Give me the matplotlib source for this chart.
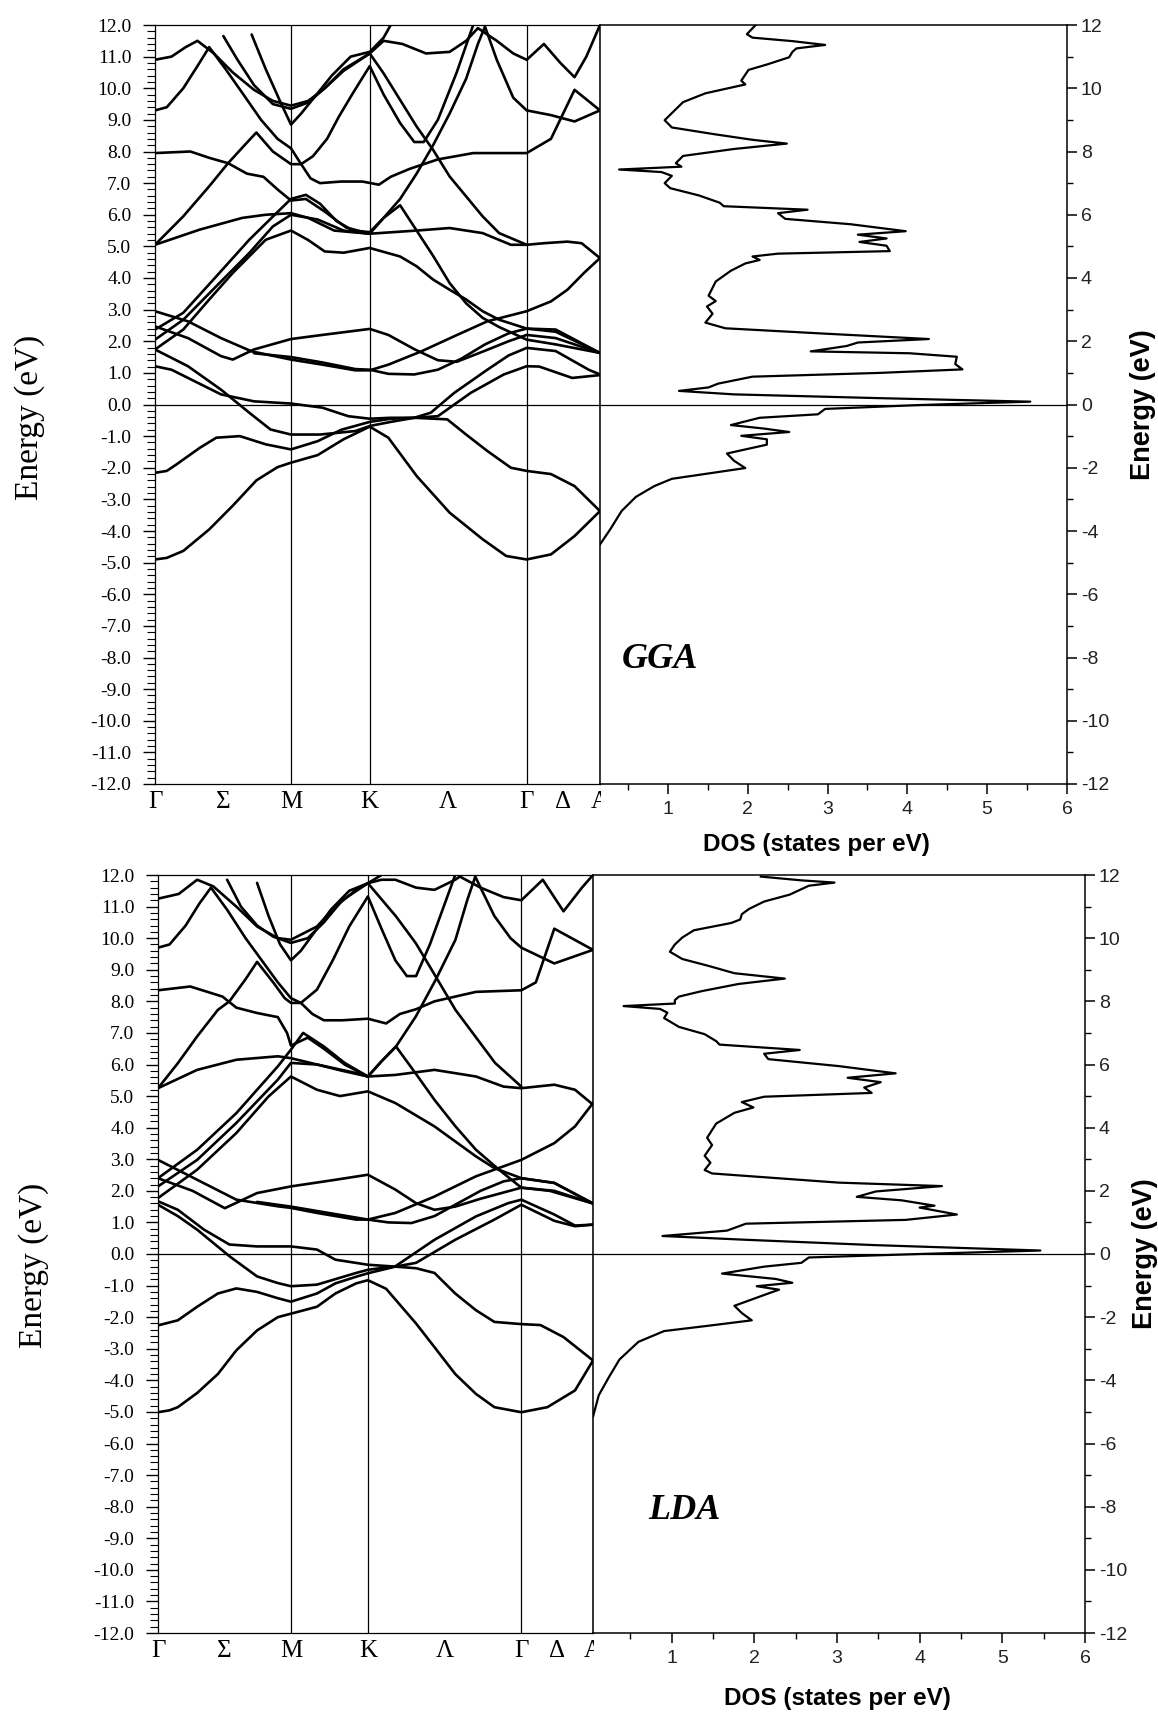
import matplotlib
matplotlib.use("Agg")
import matplotlib.pyplot as plt
from matplotlib.ticker import MultipleLocator, FormatStrFormatter
from matplotlib.patches import Rectangle

plt.rcParams['axes.unicode_minus'] = False

# ---------------- high-symmetry path ----------------
kpath_labels = ['Γ', 'Σ', 'M', 'K', 'Λ', 'Γ', 'Δ', 'A']
kpath_label_pos = [0.0, 0.289, 0.577, 0.911, 1.244, 1.577, 1.73, 1.888]
kpath_vlines = [0.577, 0.911, 1.577]
k_end = 1.888

# ---------------- GGA bands (k, E) ----------------
gga_g1 = [(0,-4.9),(0.05,-4.85),(0.12,-4.63),(0.23,-3.95),(0.33,-3.2),(0.43,-2.4),(0.52,-1.98),(0.577,-1.84),(0.69,-1.6),(0.80,-1.1),(0.911,-0.7),(0.99,-1.05),(1.11,-2.26),(1.25,-3.42),(1.39,-4.26),(1.49,-4.79),(1.577,-4.9),(1.68,-4.74),(1.78,-4.16),(1.888,-3.37)]
gga_g2 = [(0,-2.16),(0.05,-2.1),(0.09,-1.9),(0.19,-1.37),(0.26,-1.05),(0.36,-1.0),(0.47,-1.26),(0.577,-1.42),(0.69,-1.16),(0.79,-0.8),(0.911,-0.55),(1.0,-0.45),(1.1,-0.42),(1.24,-0.47),(1.32,-0.95),(1.41,-1.47),(1.51,-2.0),(1.577,-2.1),(1.68,-2.2),(1.78,-2.58),(1.888,-3.37)]
gga_g3 = [(0,1.74),(0.14,1.21),(0.28,0.47),(0.40,-0.26),(0.49,-0.79),(0.577,-0.95),(0.70,-0.95),(0.85,-0.84),(0.911,-0.68),(1.0,-0.55),(1.1,-0.42),(1.17,-0.26),(1.27,0.37),(1.41,1.1),(1.5,1.55),(1.577,1.79),(1.70,1.69),(1.84,1.1),(1.888,0.95)]
gga_g4 = [(0,1.21),(0.07,1.1),(0.14,0.84),(0.28,0.32),(0.42,0.1),(0.577,0.03),(0.71,-0.1),(0.82,-0.37),(0.911,-0.45),(1.0,-0.42),(1.1,-0.42),(1.2,-0.37),(1.34,0.37),(1.48,0.95),(1.577,1.21),(1.63,1.2),(1.77,0.84),(1.888,0.93)]
gga_c1 = [(0,2.95),(0.14,2.63),(0.28,2.1),(0.41,1.68),(0.577,1.42),(0.71,1.26),(0.85,1.08),(0.911,1.08),(0.99,1.26),(1.13,1.68),(1.27,2.16),(1.41,2.63),(1.577,2.95),(1.68,3.26),(1.75,3.63),(1.82,4.16),(1.888,4.63)]
gga_c2 = [(0,2.47),(0.14,2.1),(0.28,1.53),(0.33,1.42),(0.42,1.74),(0.577,2.07),(0.71,2.2),(0.911,2.39),(0.99,2.2),(1.1,1.75),(1.2,1.4),(1.28,1.35),(1.4,1.7),(1.5,2.0),(1.577,2.2),(1.70,2.1),(1.888,1.63)]
gga_c3 = [(0.42,1.62),(0.577,1.5),(0.71,1.33),(0.85,1.12),(0.911,1.1),(0.99,0.97),(1.1,0.95),(1.2,1.1),(1.3,1.45),(1.4,1.9),(1.5,2.25),(1.577,2.4),(1.70,2.37),(1.888,1.63)]
gga_s1 = [(0,1.74),(0.12,2.37),(0.23,3.32),(0.33,4.16),(0.47,5.21),(0.577,5.5),(0.65,5.2),(0.72,4.84),(0.80,4.8),(0.911,4.95),(1.04,4.68),(1.11,4.37),(1.18,3.95),(1.25,3.63),(1.32,3.32),(1.39,2.95),(1.46,2.68),(1.577,2.4),(1.70,2.3),(1.888,1.63)]
gga_s2 = [(0,2.05),(0.12,2.68),(0.26,3.74),(0.40,4.79),(0.50,5.63),(0.577,6.0),(0.69,5.85),(0.80,5.5),(0.911,5.4)]
gga_s3 = [(0,2.37),(0.12,2.9),(0.26,4.05),(0.40,5.21),(0.53,6.16),(0.577,6.5),(0.64,6.63),(0.70,6.35),(0.77,5.8),(0.84,5.5),(0.911,5.45),(0.97,5.9),(1.04,6.3),(1.11,5.5),(1.18,4.7),(1.25,3.84),(1.32,3.2),(1.39,2.74),(1.46,2.45),(1.577,2.05),(1.70,1.9),(1.888,1.63)]
gga_u1 = [(0,5.05),(0.19,5.53),(0.37,5.9),(0.47,6.0),(0.577,6.05),(0.65,5.9),(0.76,5.5),(0.911,5.4),(1.11,5.5),(1.25,5.58),(1.39,5.42),(1.51,5.05),(1.577,5.05),(1.65,5.1),(1.75,5.15),(1.81,5.1),(1.888,4.63)]
gga_u2 = [(0,5.05),(0.12,5.95),(0.23,6.9),(0.31,7.63),(0.38,8.2),(0.43,8.6),(0.50,8.0),(0.577,7.6),(0.62,7.6),(0.66,7.15),(0.70,7.0),(0.79,7.05),(0.88,7.05),(0.95,6.95),(1.0,7.2),(1.08,7.45),(1.2,7.75),(1.35,7.95),(1.577,7.95),(1.68,8.4),(1.78,9.95),(1.888,9.3)]
gga_u3 = [(0,7.95),(0.15,8.0),(0.23,7.8),(0.31,7.63),(0.39,7.3),(0.46,7.2),(0.52,6.8),(0.577,6.45),(0.64,6.5),(0.72,6.1),(0.81,5.6),(0.911,5.4),(0.97,5.9),(1.04,6.5),(1.11,7.3),(1.18,8.2),(1.25,9.2),(1.32,10.3),(1.37,11.4),(1.40,11.95),(1.45,10.9),(1.52,9.7),(1.577,9.3),(1.68,9.15),(1.78,8.95),(1.888,9.3)]
gga_d1 = [(0.911,11.1),(0.97,10.47),(1.04,9.63),(1.11,8.79),(1.18,8.05),(1.25,7.21),(1.32,6.58),(1.39,5.95),(1.46,5.42),(1.577,5.05)]
gga_l1 = [(0,10.9),(0.07,11.0),(0.13,11.3),(0.18,11.5),(0.25,11.1),(0.33,10.5),(0.42,9.95),(0.50,9.6),(0.577,9.45),(0.65,9.6),(0.72,10.0),(0.80,10.6),(0.911,11.1),(0.97,11.5),(1.05,11.4),(1.15,11.1),(1.25,11.15),(1.32,11.5),(1.37,11.9),(1.45,11.5),(1.52,11.1),(1.577,10.9),(1.65,11.4),(1.72,10.8),(1.78,10.35),(1.83,11.0),(1.888,12.0)]
gga_l2 = [(0,9.3),(0.05,9.4),(0.12,10.0),(0.18,10.7),(0.23,11.3),(0.30,10.6),(0.38,9.75),(0.45,9.0),(0.52,8.4),(0.577,8.1),(0.62,7.6),(0.67,7.85),(0.73,8.4),(0.78,9.1),(0.84,9.85),(0.911,10.7),(0.97,9.8),(1.04,8.9),(1.10,8.3),(1.14,8.3),(1.20,9.0),(1.28,10.5),(1.35,12.0)]
gga_l3 = [(0.29,11.65),(0.35,10.9),(0.42,10.1),(0.50,9.5),(0.577,9.35),(0.65,9.55),(0.72,10.0),(0.80,10.55),(0.911,11.1)]
gga_l4 = [(0.41,11.7),(0.47,10.6),(0.53,9.6),(0.577,8.85),(0.62,9.2),(0.68,9.75),(0.75,10.4),(0.83,11.0),(0.911,11.15),(0.97,11.6),(1.0,12.0)]

# ---------------- LDA bands (k, E) ----------------
lda_g1 = [(0,-5.01),(0.05,-4.95),(0.086,-4.85),(0.17,-4.4),(0.26,-3.8),(0.34,-3.05),(0.43,-2.42),(0.52,-2.0),(0.577,-1.89),(0.69,-1.67),(0.77,-1.25),(0.86,-0.93),(0.911,-0.83),(0.99,-1.1),(1.12,-2.2),(1.2,-2.95),(1.29,-3.8),(1.38,-4.43),(1.46,-4.85),(1.577,-5.01),(1.69,-4.85),(1.81,-4.32),(1.888,-3.37)]
lda_g2 = [(0,-2.26),(0.086,-2.1),(0.17,-1.67),(0.26,-1.25),(0.34,-1.09),(0.43,-1.2),(0.52,-1.4),(0.577,-1.51),(0.69,-1.25),(0.77,-0.93),(0.86,-0.72),(0.911,-0.61),(1.03,-0.4),(1.12,-0.45),(1.2,-0.6),(1.29,-1.25),(1.38,-1.78),(1.46,-2.15),(1.577,-2.22),(1.66,-2.25),(1.76,-2.63),(1.888,-3.37)]
lda_g3 = [(0,1.56),(0.086,1.2),(0.17,0.77),(0.31,-0.07),(0.43,-0.71),(0.52,-0.92),(0.577,-1.02),(0.69,-0.97),(0.86,-0.6),(0.911,-0.5),(1.03,-0.39),(1.2,0.45),(1.38,1.19),(1.52,1.61),(1.577,1.72),(1.72,1.25),(1.81,0.9),(1.888,0.93)]
lda_g4 = [(0,1.67),(0.086,1.4),(0.2,0.77),(0.31,0.3),(0.43,0.24),(0.577,0.24),(0.69,0.14),(0.77,-0.18),(0.911,-0.34),(1.03,-0.4),(1.12,-0.28),(1.29,0.45),(1.46,1.09),(1.577,1.56),(1.72,1.05),(1.81,0.88),(1.888,0.93)]
lda_c1 = [(0,2.98),(0.17,2.35),(0.34,1.72),(0.52,1.51),(0.577,1.46),(0.69,1.3),(0.86,1.09),(0.911,1.09),(1.03,1.3),(1.2,1.82),(1.38,2.46),(1.577,2.98),(1.72,3.51),(1.81,4.04),(1.888,4.78)]
lda_c2 = [(0,2.4),(0.15,2.0),(0.29,1.45),(0.43,1.93),(0.577,2.14),(0.77,2.35),(0.911,2.51),(1.03,2.04),(1.12,1.61),(1.2,1.4),(1.29,1.5),(1.4,1.75),(1.577,2.1),(1.7,2.0),(1.888,1.6)]
lda_c3 = [(0.43,1.65),(0.577,1.5),(0.74,1.3),(0.911,1.09),(1.0,1.0),(1.1,0.98),(1.2,1.2),(1.3,1.6),(1.4,2.0),(1.5,2.3),(1.577,2.4),(1.72,2.25),(1.888,1.6)]
lda_s1 = [(0,1.77),(0.17,2.67),(0.34,3.83),(0.48,4.99),(0.577,5.62),(0.69,5.2),(0.79,5.0),(0.911,5.15),(1.03,4.78),(1.2,4.04),(1.38,3.09),(1.46,2.72),(1.577,2.4),(1.72,2.25),(1.888,1.6)]
lda_s2 = [(0,2.14),(0.17,2.98),(0.34,4.15),(0.52,5.52),(0.577,6.05),(0.69,6.0),(0.80,5.8),(0.911,5.62)]
lda_s3 = [(0,2.4),(0.17,3.3),(0.34,4.46),(0.52,5.94),(0.577,6.47),(0.63,7.0),(0.72,6.57),(0.81,6.05),(0.911,5.62),(0.97,6.1),(1.033,6.57),(1.12,5.7),(1.2,4.88),(1.29,4.05),(1.38,3.3),(1.48,2.67),(1.577,2.1),(1.72,2.0),(1.888,1.6)]
lda_u1 = [(0,5.25),(0.17,5.83),(0.34,6.15),(0.52,6.26),(0.577,6.2),(0.69,6.0),(0.86,5.73),(0.911,5.62),(1.03,5.67),(1.2,5.83),(1.38,5.62),(1.5,5.3),(1.577,5.25),(1.72,5.36),(1.81,5.2),(1.888,4.73)]
lda_u2 = [(0,5.25),(0.086,6.04),(0.17,6.89),(0.26,7.73),(0.31,8.0),(0.38,8.7),(0.43,9.25),(0.50,8.6),(0.55,8.1),(0.577,7.95),(0.62,7.95),(0.67,7.6),(0.72,7.4),(0.80,7.4),(0.911,7.45),(0.99,7.3),(1.05,7.6),(1.12,7.75),(1.2,8.0),(1.38,8.3),(1.577,8.35),(1.64,8.6),(1.72,10.3),(1.888,9.63)]
lda_u3 = [(0,8.35),(0.14,8.47),(0.28,8.15),(0.34,7.8),(0.43,7.63),(0.52,7.5),(0.56,7.0),(0.577,6.6),(0.65,6.85),(0.72,6.5),(0.81,6.0),(0.911,5.62),(0.97,6.1),(1.033,6.57),(1.119,7.52),(1.205,8.68),(1.291,9.95),(1.342,11.2),(1.377,11.95),(1.40,11.6),(1.46,10.7),(1.53,10.0),(1.577,9.7),(1.72,9.2),(1.888,9.63)]
lda_d1 = [(0.911,11.74),(1.033,10.69),(1.119,9.84),(1.205,8.79),(1.291,7.73),(1.377,6.89),(1.463,6.05),(1.577,5.3)]
lda_l1 = [(0,11.25),(0.09,11.4),(0.17,11.85),(0.24,11.64),(0.34,11.0),(0.43,10.37),(0.52,10.0),(0.577,9.95),(0.69,10.37),(0.77,11.0),(0.86,11.53),(0.911,11.74),(0.97,11.85),(1.03,11.85),(1.12,11.6),(1.2,11.53),(1.29,11.85),(1.31,11.95),(1.40,11.6),(1.50,11.3),(1.577,11.2),(1.67,11.85),(1.76,10.85),(1.84,11.6),(1.888,12.0)]
lda_l2 = [(0,9.7),(0.05,9.8),(0.12,10.4),(0.18,11.1),(0.23,11.6),(0.30,10.9),(0.38,10.0),(0.45,9.3),(0.52,8.6),(0.577,8.1),(0.62,7.95),(0.69,8.37),(0.76,9.32),(0.83,10.37),(0.911,11.32),(0.97,10.3),(1.03,9.3),(1.08,8.8),(1.12,8.8),(1.18,9.8),(1.24,11.0),(1.29,12.0)]
lda_l3 = [(0.30,11.85),(0.36,11.0),(0.43,10.4),(0.50,10.05),(0.577,9.85),(0.65,10.0),(0.72,10.5),(0.80,11.2),(0.911,11.74)]
lda_l4 = [(0.43,11.75),(0.48,10.7),(0.53,9.8),(0.577,9.3),(0.62,9.6),(0.68,10.2),(0.75,10.9),(0.83,11.5),(0.911,11.74),(0.97,12.0)]

# ---------------- DOS (energy, states per eV) ----------------
gga_dos_e = [12.0,11.71,11.6,11.49,11.37,11.26,11.15,10.98,10.75,10.58,
             10.24,10.12,9.84,9.56,8.99,8.76,8.54,8.37,8.25,8.08,
             7.86,7.63,7.52,7.43,7.35,7.23,7.0,6.84,6.61,6.38,
             6.27,6.16,6.05,5.87,5.7,5.48,5.37,5.25,5.14,5.02,
             4.85,4.77,4.68,4.57,4.46,4.23,3.89,3.44,3.27,3.1,
             2.87,2.59,2.41,2.24,2.07,1.96,1.85,1.68,1.62,1.51,
             1.28,1.11,1.0,0.88,0.66,0.54,0.43,0.32,0.2,0.09,
             -0.02,-0.14,-0.31,-0.42,-0.65,-0.76,-0.87,-0.99,-1.1,-1.27,
             -1.55,-1.78,-2.01,-2.18,-2.35,-2.58,-2.92,-3.37,-3.94,-4.5,-4.8]
gga_dos_v = [2.1,1.99,2.06,2.56,2.97,2.61,2.56,2.52,2.24,2.01,
             1.92,1.97,1.47,1.19,0.96,1.05,1.6,2.06,2.49,1.83,
             1.19,1.1,1.17,0.39,0.92,1.05,0.96,1.03,1.39,1.65,
             1.7,2.75,2.38,2.47,3.29,3.98,3.38,3.74,3.4,3.74,
             3.78,2.38,2.06,2.15,1.97,1.79,1.6,1.51,1.6,1.49,
             1.56,1.47,1.72,2.97,4.27,3.38,3.24,2.79,4.03,4.62,
             4.6,4.69,3.66,2.06,1.63,1.51,1.14,1.83,3.66,5.54,
             4.12,2.97,2.88,2.15,1.79,2.2,2.52,1.92,2.24,2.24,
             1.74,1.83,1.97,1.51,1.05,0.83,0.6,0.42,0.28,0.13,0.05]

lda_dos_e = [11.95,11.83,11.76,11.66,11.49,11.38,11.16,10.93,10.76,10.59,
             10.48,10.25,10.02,9.8,9.57,9.34,9.12,8.89,8.72,8.55,
             8.32,8.15,8.04,7.93,7.85,7.76,7.64,7.47,7.19,6.96,
             6.74,6.63,6.46,6.34,6.17,5.95,5.72,5.58,5.44,5.27,
             5.1,4.98,4.81,4.64,4.47,4.13,3.68,3.45,3.11,2.89,
             2.66,2.55,2.26,2.15,1.98,1.81,1.7,1.53,1.47,1.25,
             1.08,0.96,0.74,0.57,0.45,0.28,0.11,0.0,-0.11,-0.28,
             -0.4,-0.62,-0.79,-0.91,-1.02,-1.13,-1.25,-1.64,-1.87,-2.1,
             -2.27,-2.44,-2.78,-3.34,-3.91,-4.47,-5.15]
lda_dos_v = [2.08,2.57,2.97,2.66,2.52,2.43,2.12,1.94,1.85,1.83,
             1.72,1.27,1.13,1.04,0.98,1.13,1.45,1.76,2.37,1.81,
             1.36,1.09,1.04,1.04,0.42,0.86,0.95,0.91,1.09,1.4,
             1.54,1.58,2.55,2.12,2.17,3.02,3.71,3.13,3.53,3.33,
             3.42,2.12,1.85,1.99,1.76,1.54,1.43,1.49,1.4,1.47,
             1.4,1.49,3.02,4.27,3.47,3.24,3.78,4.18,4.0,4.45,
             3.83,1.9,1.67,0.89,1.9,3.47,5.46,4.0,2.66,2.57,
             2.12,1.61,2.26,2.46,2.03,2.3,2.17,1.76,1.85,1.97,
             1.45,0.91,0.6,0.37,0.24,0.12,0.05]

gga_bands = [gga_g1, gga_g2, gga_g3, gga_g4, gga_c1, gga_c2, gga_c3, gga_s1, gga_s2, gga_s3,
             gga_u1, gga_u2, gga_u3, gga_d1, gga_l1, gga_l2, gga_l3, gga_l4]
lda_bands = [lda_g1, lda_g2, lda_g3, lda_g4, lda_c1, lda_c2, lda_c3, lda_s1, lda_s2, lda_s3,
             lda_u1, lda_u2, lda_u3, lda_d1, lda_l1, lda_l2, lda_l3, lda_l4]

# ---------------- figure ----------------
W, H = 1158, 1713
fig = plt.figure(figsize=(W / 100, H / 100), dpi=100)
fig.patch.set_facecolor('white')

def box(l, t, r, b):
    return [l / W, 1 - b / H, (r - l) / W, (b - t) / H]

SERIF = ['Liberation Serif', 'DejaVu Serif']
SANS = ['Liberation Sans', 'DejaVu Sans']

def draw_bands(ax, bands):
    for band in bands:
        ks = [p[0] for p in band]
        es = [p[1] for p in band]
        ax.plot(ks, es, color='black', lw=1.9, solid_joinstyle='round', solid_capstyle='round')
    for kv in kpath_vlines:
        ax.axvline(kv, color='black', lw=0.9)
    ax.axhline(0, color='black', lw=0.9)
    ax.set_xlim(0, k_end)
    ax.set_ylim(-12, 12)
    ax.yaxis.set_major_locator(MultipleLocator(1))
    ax.yaxis.set_minor_locator(MultipleLocator(0.2))
    ax.yaxis.set_major_formatter(FormatStrFormatter('%.1f'))
    ax.tick_params(axis='y', which='major', direction='out', length=9, width=1.0,
                   labelsize=14, pad=8)
    ax.tick_params(axis='y', which='minor', direction='out', length=5.5, width=0.8)
    ax.set_xticks(kpath_label_pos)
    ax.set_xticklabels(kpath_labels)
    ax.tick_params(axis='x', length=0, pad=5, labelsize=18)
    for lbl in ax.get_yticklabels() + ax.get_xticklabels():
        lbl.set_fontfamily(SERIF)
    for s in ax.spines.values():
        s.set_linewidth(0.9)

def draw_dos(ax, es, vs, xmin):
    ax.plot(vs, es, color='black', lw=1.6, solid_joinstyle='round')
    ax.axhline(0, color='black', lw=0.9)
    ax.set_xlim(xmin, 6)
    ax.set_ylim(-12, 12)
    ax.set_facecolor('white')
    ax.yaxis.tick_right()
    ax.yaxis.set_major_locator(MultipleLocator(2))
    ax.yaxis.set_minor_locator(MultipleLocator(1))
    ax.xaxis.set_major_locator(MultipleLocator(1))
    ax.xaxis.set_minor_locator(MultipleLocator(0.5))
    ax.tick_params(axis='both', which='major', direction='out', length=7, width=1.1,
                   labelsize=14, pad=3)
    ax.tick_params(axis='x', which='major', pad=5)
    ax.tick_params(axis='both', which='minor', direction='out', length=4, width=1.0)
    for lbl in ax.get_yticklabels() + ax.get_xticklabels():
        lbl.set_fontfamily(SANS)
        lbl.set_color('#222222')
    for s in ax.spines.values():
        s.set_linewidth(1.1)

# GGA (top)
ax_gb = fig.add_axes(box(155, 25, 600, 784))
draw_bands(ax_gb, gga_bands)
ax_gd = fig.add_axes(box(600, 25, 1067, 784))
draw_dos(ax_gd, gga_dos_e, gga_dos_v, 0.15)

# LDA (bottom)
ax_lb = fig.add_axes(box(158, 875, 593, 1633))
draw_bands(ax_lb, lda_bands)
ax_ld = fig.add_axes(box(593, 875, 1085, 1633))
draw_dos(ax_ld, lda_dos_e, lda_dos_v, 0.05)

# the DOS panel hides the right half of the "A" label (as in the composed original)
for (x0, y0) in [(600.6, 786), (593.6, 1635)]:
    fig.add_artist(Rectangle((x0 / W, 1 - (y0 + 28) / H), 20 / W, 28 / H,
                             transform=fig.transFigure, facecolor='white',
                             edgecolor='none', zorder=5))

def ftext(x, y, s, **kw):
    fig.text(x / W, 1 - y / H, s, **kw)

# axis titles
ftext(30, 417, 'Energy (eV)', rotation=90, ha='center', va='center', fontsize=24, family=SERIF)
ftext(34, 1265, 'Energy (eV)', rotation=90, ha='center', va='center', fontsize=24, family=SERIF)
ftext(1143, 405, 'Energy (eV)', rotation=90, ha='center', va='center', fontsize=19.5,
      fontweight='bold', family=SANS)
ftext(1145, 1254, 'Energy (eV)', rotation=90, ha='center', va='center', fontsize=19.5,
      fontweight='bold', family=SANS)
ftext(816, 845, 'DOS (states per eV)', ha='center', va='center', fontsize=17.5,
      fontweight='bold', family=SANS)
ftext(837, 1698, 'DOS (states per eV)', ha='center', va='center', fontsize=17.5,
      fontweight='bold', family=SANS)

# method labels
ftext(622, 668, 'GGA', ha='left', va='baseline', fontsize=26, fontweight='bold',
      fontstyle='italic', family=SERIF)
ftext(648, 1519, 'LDA', ha='left', va='baseline', fontsize=26, fontweight='bold',
      fontstyle='italic', family=SERIF)

fig.savefig('out.png', dpi=100, facecolor='white')
